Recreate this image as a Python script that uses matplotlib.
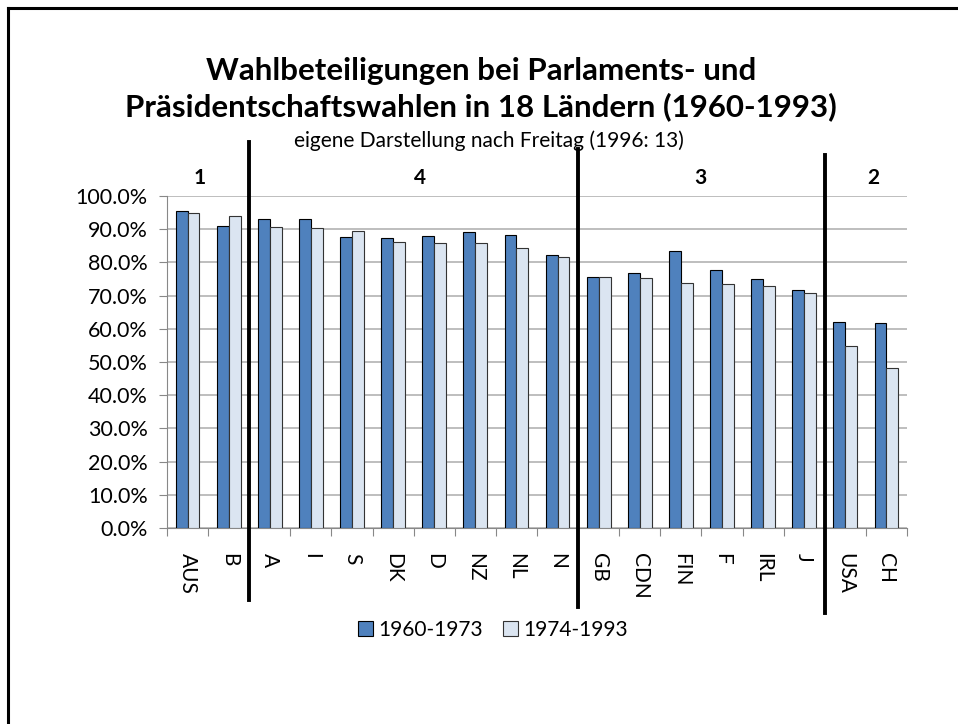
import matplotlib
matplotlib.use("Agg")
import matplotlib.pyplot as plt
import numpy as np

plt.rcParams['font.family'] = ['Lato', 'DejaVu Sans']

# Daten
laender = ['AUS', 'B', 'A', 'I', 'S', 'DK', 'D', 'NZ', 'NL', 'N',
           'GB', 'CDN', 'FIN', 'F', 'IRL', 'J', 'USA', 'CH']
werte_1960_1973 = [95.4, 91.0, 93.0, 93.0, 87.7, 87.3, 88.1, 89.2, 88.2, 82.2,
                   75.5, 76.7, 83.4, 77.7, 74.9, 71.8, 61.9, 61.6]
werte_1974_1993 = [94.9, 94.0, 90.8, 90.4, 89.6, 86.1, 85.9, 85.8, 84.4, 81.6,
                   75.5, 75.2, 73.9, 73.6, 72.9, 70.8, 54.7, 48.2]
gruppen = ['1', '4', '3', '2']
gruppen_x = [0.3, 5.65, 12.47, 16.67]
trenner_x = [1.5, 9.5, 15.5]

fig = plt.figure(figsize=(9.58, 7.24), dpi=100)
ax = fig.add_axes([167/958, 196/724, 740/958, 332/724])

x = np.arange(len(laender))
b = 0.29
ax.bar(x - b/2, werte_1960_1973, b, color='#4F81BD', edgecolor='black',
       linewidth=0.8, label='1960-1973', zorder=3)
ax.bar(x + b/2, werte_1974_1993, b, color='#DBE5F1', edgecolor='#333333',
       linewidth=0.8, label='1974-1993', zorder=3)

ax.set_xlim(-0.5, len(laender) - 0.5)
ax.set_ylim(0, 100)
ax.set_yticks(np.arange(0, 101, 10))
ax.set_yticklabels([f'{v:.1f}%' for v in np.arange(0, 101, 10)], fontsize=15.5)
ax.yaxis.grid(True, color='#B3B3B3', linewidth=1.2, zorder=0)

ax.set_xticks(np.arange(-0.5, len(laender), 1))
ax.set_xticklabels([])
ax.set_xticks(x, minor=True)
ax.set_xticklabels(laender, minor=True, rotation=270, fontsize=15)
ax.tick_params(axis='x', which='minor', length=0, pad=18)
ax.tick_params(axis='x', which='major', length=6, color='#888888')
ax.tick_params(axis='y', length=6, color='#888888', pad=8)

for s in ['top', 'right']:
    ax.spines[s].set_visible(False)
ax.spines['left'].set_color('#888888')
ax.spines['bottom'].set_color('#888888')

# Trennlinien zwischen den Gruppen
for tx, y0, y1 in zip(trenner_x, [-0.216, -0.237, -0.255], [1.164, 1.143, 1.125]):
    ax.axvline(tx, ymin=y0, ymax=y1, color='black', linewidth=2.8,
               clip_on=False, zorder=5)

for gx, g in zip(gruppen_x, gruppen):
    ax.text(gx, 105.5, g, ha='center', va='center', fontsize=15,
            fontweight='bold')

fig.text(481/958, 1 - 89/724,
         'Wahlbeteiligungen bei Parlaments- und\nPräsidentschaftswahlen in 18 Ländern (1960-1993)',
         ha='center', va='center', fontsize=22.5, fontweight='bold', linespacing=1.27)
fig.text(489/958, 1 - 141/724, 'eigene Darstellung nach Freitag (1996: 13)',
         ha='center', va='center', fontsize=15)

ax.legend(loc='center', bbox_to_anchor=(493/958, 1 - 630/724),
          bbox_transform=fig.transFigure, ncol=2, frameon=False, fontsize=15,
          handlelength=0.7, handleheight=0.7, handletextpad=0.25, columnspacing=1.0)

# Rahmen oben und links
fig.add_artist(plt.Line2D([8/958, 1], [1 - 8/724, 1 - 8/724], color='black', linewidth=2.2))
fig.add_artist(plt.Line2D([8/958, 8/958], [0, 1 - 8/724], color='black', linewidth=2.2))

fig.savefig('out.png', dpi=100)
